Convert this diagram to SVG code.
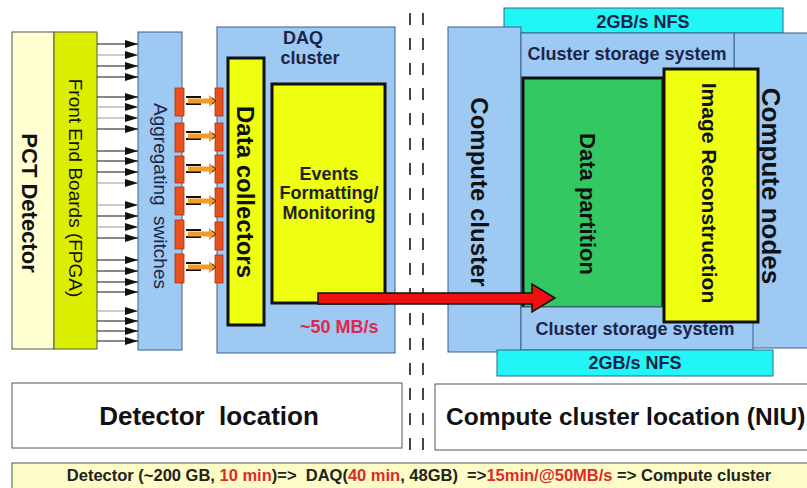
<svg xmlns="http://www.w3.org/2000/svg" width="807" height="488" viewBox="0 0 807 488">
<style>
text{font-family:"Liberation Sans",Arial,sans-serif;white-space:pre}
.b{font-weight:bold}
.blue{fill:#9dc9f3;stroke:#3d5f8e;stroke-width:1}
.ylw{fill:#eeff10;stroke:#111;stroke-width:3}
.cyan{fill:#22f5f5;stroke:#2a6a8a;stroke-width:1}
.dk{fill:#111}
.nv{fill:#1c2448}
.red{fill:#dd2a2a}
.fl{stroke:#111;stroke-width:1}
.fl2{stroke:#999;stroke-width:1}
.ob{fill:#e8501e;stroke:#b03010;stroke-width:0.8}
</style>
<defs>
<marker id="tri" markerUnits="userSpaceOnUse" markerWidth="13" markerHeight="8" refX="13" refY="4" orient="auto">
<path d="M0,0 L13,4 L0,8 z" fill="#111"/>
</marker>
</defs>
<rect width="807" height="488" fill="#fff"/>

<g id="pct-detector">
<rect x="12" y="32" width="42" height="317" fill="#ffffd2" stroke="#555"/>
<text class="b dk" font-size="22" text-anchor="middle" dy="0.35em" transform="translate(30,203) rotate(90)">PCT Detector</text>
</g>
<g id="fpga">
<rect x="54" y="32" width="43" height="317" fill="#dcee00" stroke="#555"/>
<text class="dk" font-size="19" text-anchor="middle" dy="0.35em" transform="translate(76,188) rotate(90)">Front End Boards (FPGA)</text>
</g>
<g id="switches">
<rect x="138" y="32" width="44" height="318" class="blue"/>
<text class="nv" font-size="19" text-anchor="middle" dy="0.35em" transform="translate(161,196) rotate(90)">Aggregating  switches</text>
<rect x="175" y="88" width="9" height="28" class="ob"/>
<rect x="175" y="123" width="9" height="29" class="ob"/>
<rect x="175" y="156" width="9" height="27" class="ob"/>
<rect x="175" y="187" width="9" height="28" class="ob"/>
<rect x="175" y="220" width="9" height="29" class="ob"/>
<rect x="175" y="254" width="9" height="29" class="ob"/>
</g>
<g id="daq-cluster">
<rect x="217" y="27" width="178" height="326" class="blue"/>
<text class="b nv" font-size="18" text-anchor="middle" x="303" y="44">DAQ</text>
<text class="b nv" font-size="18" text-anchor="middle" x="310" y="64">cluster</text>
<rect x="215" y="88" width="8" height="28" class="ob"/>
<rect x="215" y="123" width="8" height="28" class="ob"/>
<rect x="215" y="155" width="8" height="28" class="ob"/>
<rect x="215" y="188" width="8" height="29" class="ob"/>
<rect x="215" y="222" width="8" height="28" class="ob"/>
<rect x="215" y="255" width="8" height="28" class="ob"/>
<text class="b" font-size="18" fill="#e0284a" x="300" y="333">~50 MB/s</text>
</g>
<g id="data-collectors">
<rect x="228" y="58" width="36" height="267" class="ylw"/>
<text class="b dk" font-size="24" text-anchor="middle" dy="0.35em" transform="translate(245,192) rotate(90)">Data collectors</text>
</g>
<g id="events">
<rect x="272" y="84" width="113" height="219" class="ylw"/>
<text class="b" fill="#222" font-size="18" text-anchor="middle" x="329" y="180">Events</text>
<text class="b" fill="#222" font-size="18" text-anchor="middle" x="329" y="199">Formatting/</text>
<text class="b" fill="#222" font-size="18" text-anchor="middle" x="329" y="219">Monitoring</text>
</g>

<g id="separator" stroke="#444" stroke-width="2" stroke-dasharray="12 13">
<line x1="410" y1="13" x2="410" y2="455"/>
<line x1="423" y1="13" x2="423" y2="455"/>
</g>

<g id="nfs-top">
<rect x="504" y="8" width="279" height="25" class="cyan"/>
<text class="b nv" font-size="18" text-anchor="middle" x="643" y="28">2GB/s NFS</text>
</g>
<g id="compute-cluster">
<rect x="448" y="27" width="73" height="325" class="blue"/>
<text class="b dk" font-size="24" text-anchor="middle" dy="0.35em" transform="translate(479,192) rotate(90)">Compute cluster</text>
</g>
<g id="compute-nodes">
<rect x="734" y="33" width="80" height="315" class="blue"/>
<text class="b dk" font-size="26" text-anchor="middle" dy="0.35em" transform="translate(771,186) rotate(90)">Compute nodes</text>
</g>
<g id="storage-top">
<rect x="521" y="33" width="213" height="275" class="blue"/>
<text class="b nv" font-size="18" text-anchor="middle" x="627" y="60">Cluster storage system</text>
</g>
<g id="data-partition">
<rect x="523" y="78" width="140" height="230" fill="#33c862" stroke="#111" stroke-width="3"/>
<text class="b dk" font-size="22" text-anchor="middle" dy="0.35em" transform="translate(588,204) rotate(90)">Data partition</text>
</g>
<g id="storage-bottom">
<rect x="521" y="307" width="232" height="43" class="blue"/>
<text class="b nv" font-size="18" text-anchor="middle" x="635" y="335">Cluster storage system</text>
</g>
<g id="image-reconstruction">
<rect x="664" y="69" width="94" height="253" class="ylw"/>
<text class="b dk" font-size="21" text-anchor="middle" dy="0.35em" transform="translate(709,193) rotate(90)">Image Reconstruction</text>
</g>
<g id="nfs-bottom">
<rect x="497" y="350" width="276" height="26" class="cyan"/>
<text class="b nv" font-size="18" text-anchor="middle" x="635" y="369">2GB/s NFS</text>
</g>

<g id="connectors">
<g fill="none" marker-end="url(#tri)">
<line x1="97" y1="44" x2="138" y2="44" class="fl"/>
<line x1="97" y1="55" x2="138" y2="55" class="fl2"/>
<line x1="97" y1="66" x2="138" y2="66" class="fl"/>
<line x1="97" y1="77" x2="138" y2="77" class="fl"/>
<line x1="97" y1="97" x2="138" y2="97" class="fl"/>
<line x1="97" y1="107" x2="138" y2="107" class="fl2"/>
<line x1="97" y1="118" x2="138" y2="118" class="fl2"/>
<line x1="97" y1="129" x2="138" y2="129" class="fl"/>
<line x1="97" y1="151" x2="138" y2="151" class="fl"/>
<line x1="97" y1="161" x2="138" y2="161" class="fl"/>
<line x1="97" y1="172" x2="138" y2="172" class="fl"/>
<line x1="97" y1="183" x2="138" y2="183" class="fl2"/>
<line x1="97" y1="205" x2="138" y2="205" class="fl2"/>
<line x1="97" y1="216" x2="138" y2="216" class="fl"/>
<line x1="97" y1="227" x2="138" y2="227" class="fl2"/>
<line x1="97" y1="238" x2="138" y2="238" class="fl"/>
<line x1="97" y1="260" x2="138" y2="260" class="fl"/>
<line x1="97" y1="271" x2="138" y2="271" class="fl"/>
<line x1="97" y1="282" x2="138" y2="282" class="fl"/>
<line x1="97" y1="292" x2="138" y2="292" class="fl"/>
<line x1="97" y1="311" x2="138" y2="311" class="fl2"/>
<line x1="97" y1="321" x2="138" y2="321" class="fl"/>
<line x1="97" y1="331" x2="138" y2="331" class="fl"/>
<line x1="97" y1="341" x2="138" y2="341" class="fl"/>
</g>
<g id="switch-links">
<g transform="translate(0,101)"><path d="M186,-4H201M186,3H201" stroke="#111" stroke-width="2"/><path d="M188,-2.5H210V2.5H188z M209,-6L217,0L209,6z" fill="#f39a2a"/><path d="M212,-3L216,0L212,3" fill="none" stroke="#222" stroke-width="1"/></g>
<g transform="translate(0,136)"><path d="M186,-4H201M186,3H201" stroke="#111" stroke-width="2"/><path d="M188,-2.5H210V2.5H188z M209,-6L217,0L209,6z" fill="#f39a2a"/><path d="M212,-3L216,0L212,3" fill="none" stroke="#222" stroke-width="1"/></g>
<g transform="translate(0,169)"><path d="M186,-4H201M186,3H201" stroke="#111" stroke-width="2"/><path d="M188,-2.5H210V2.5H188z M209,-6L217,0L209,6z" fill="#f39a2a"/><path d="M212,-3L216,0L212,3" fill="none" stroke="#222" stroke-width="1"/></g>
<g transform="translate(0,201)"><path d="M186,-4H201M186,3H201" stroke="#111" stroke-width="2"/><path d="M188,-2.5H210V2.5H188z M209,-6L217,0L209,6z" fill="#f39a2a"/><path d="M212,-3L216,0L212,3" fill="none" stroke="#222" stroke-width="1"/></g>
<g transform="translate(0,234)"><path d="M186,-4H201M186,3H201" stroke="#111" stroke-width="2"/><path d="M188,-2.5H210V2.5H188z M209,-6L217,0L209,6z" fill="#f39a2a"/><path d="M212,-3L216,0L212,3" fill="none" stroke="#222" stroke-width="1"/></g>
<g transform="translate(0,267)"><path d="M186,-4H201M186,3H201" stroke="#111" stroke-width="2"/><path d="M188,-2.5H210V2.5H188z M209,-6L217,0L209,6z" fill="#f39a2a"/><path d="M212,-3L216,0L212,3" fill="none" stroke="#222" stroke-width="1"/></g>
</g>
<path id="transfer-arrow" d="M318,293H532V284L555,298L532,312V304H318z" fill="#ee1111" stroke="#111" stroke-width="1.5"/>
</g>

<g id="detector-location">
<rect x="12" y="383" width="390" height="65" fill="#fff" stroke="#555"/>
<text class="b dk" font-size="26" text-anchor="middle" x="209" y="425">Detector  location</text>
</g>
<g id="compute-location">
<rect x="435" y="384" width="380" height="66" fill="#fff" stroke="#555"/>
<text class="b dk" font-size="24.5" x="446" y="425">Compute cluster location (NIU)</text>
</g>
<g id="summary-bar">
<rect x="12" y="463" width="800" height="30" fill="#fdfcc6" stroke="#555"/>
<text class="b" fill="#222" font-size="16.5" text-anchor="middle" x="419" y="481">Detector (~200 GB, <tspan class="red">10 min</tspan>)=&gt;  DAQ(<tspan class="red">40 min</tspan>, 48GB)  =&gt;<tspan class="red">15min/@50MB/s</tspan> =&gt; Compute cluster</text>
</g>
</svg>
